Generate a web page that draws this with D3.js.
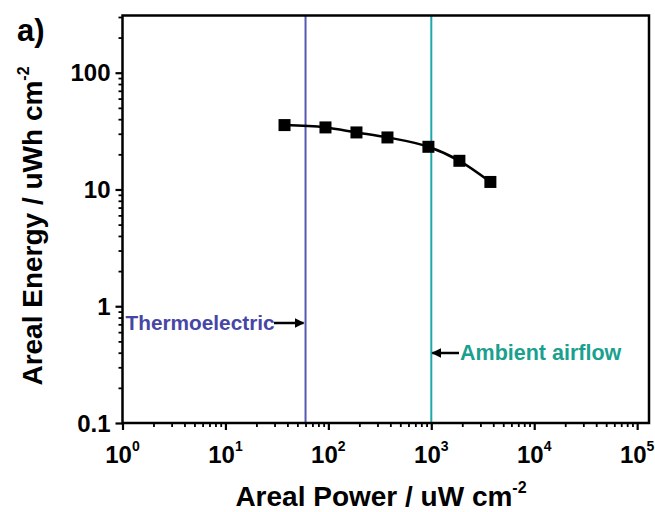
<!DOCTYPE html>
<html>
<head>
<meta charset="utf-8">
<script src="https://cdn.jsdelivr.net/npm/d3@7"></script>
<style>
  body { margin: 0; background: #fff; }
  text { font-family: "Liberation Sans", Arial, sans-serif; font-weight: bold; }
</style>
</head>
<body>
<div id="chart"></div>
<script>

// data
const power = [37.5, 93.75, 187.5, 375, 937.5, 1875, 3750];
const energy = [35.6, 34.0, 30.8, 27.9, 23.2, 17.6, 11.6];

const xMajor = [1, 10, 100, 1000, 10000, 100000];
const yMajor = [0.1, 1, 10, 100];
const yLabels = ["0.1", "1", "10", "100"];

const thermoX = 60;
const airflowX = 1000;

/*
SVG + SIZE
*/
const width = 655;
const height = 512;
const margin = {top: 15.5, left: 122.5, right: 6, bottom: 89};

const svg = d3.select("#chart")
    .append("svg")
    .attr("width", width)
    .attr("height", height);

/*
SCALES
*/
const xScale = d3.scaleLog()
    .domain([1, Math.pow(10, 5.115)])
    .range([margin.left, width - margin.right]);

const yScale = d3.scaleLog()
    .domain([0.1, Math.pow(10, 2.49)])
    .range([height - margin.bottom, margin.top]);

// minor ticks 2..9 of every decade
function minorTicks(lo, hi) {
    let out = [];
    for (let e = lo; e < hi; e++) {
        for (let k = 2; k <= 9; k++) out.push(k * Math.pow(10, e));
    }
    return out;
}

/*
AXES
*/
const bottom = height - margin.bottom;

svg.append("g")
    .attr("transform", `translate(0,${bottom})`)
    .call(d3.axisBottom(xScale).tickValues(xMajor).tickFormat("").tickSize(7).tickSizeOuter(0))
    .call(g => g.select(".domain").remove())
    .selectAll("line").attr("stroke-width", 2.2);

svg.append("g")
    .attr("transform", `translate(0,${bottom})`)
    .call(d3.axisBottom(xScale).tickValues(minorTicks(0, 5)).tickFormat("").tickSize(4).tickSizeOuter(0))
    .call(g => g.select(".domain").remove())
    .selectAll("line").attr("stroke-width", 1.8);

svg.append("g")
    .attr("transform", `translate(${margin.left},0)`)
    .call(d3.axisLeft(yScale).tickValues(yMajor).tickFormat("").tickSize(7).tickSizeOuter(0))
    .call(g => g.select(".domain").remove())
    .selectAll("line").attr("stroke-width", 2.2);

svg.append("g")
    .attr("transform", `translate(${margin.left},0)`)
    .call(d3.axisLeft(yScale).tickValues(minorTicks(-1, 2).concat([200, 300].filter(v => v < yScale.domain()[1]))).tickFormat("").tickSize(4).tickSizeOuter(0))
    .call(g => g.select(".domain").remove())
    .selectAll("line").attr("stroke-width", 1.8);

// tick labels
yMajor.forEach(function(v, i) {
    svg.append("text")
        .attr("x", margin.left - 12)
        .attr("y", yScale(v) + 8.5)
        .attr("text-anchor", "end")
        .attr("font-size", 24)
        .text(yLabels[i]);
});

xMajor.forEach(function(v, i) {
    const t = svg.append("text")
        .attr("x", xScale(v))
        .attr("y", bottom + 40)
        .attr("text-anchor", "middle")
        .attr("font-size", 24);
    t.append("tspan").text("10");
    t.append("tspan").attr("dy", -12).attr("font-size", 14).text(i);
});

/*
REFERENCE LINES
*/
svg.append("line")
    .attr("x1", xScale(thermoX)).attr("x2", xScale(thermoX))
    .attr("y1", margin.top).attr("y2", bottom)
    .attr("stroke", "#5858b4")
    .attr("stroke-width", 2);

svg.append("line")
    .attr("x1", xScale(airflowX)).attr("x2", xScale(airflowX))
    .attr("y1", margin.top).attr("y2", bottom)
    .attr("stroke", "#1fa8a8")
    .attr("stroke-width", 2);

// arrow head
svg.append("defs").append("marker")
    .attr("id", "arrow")
    .attr("viewBox", "0 0 10 10")
    .attr("refX", 9).attr("refY", 5)
    .attr("markerWidth", 4).attr("markerHeight", 4)
    .attr("orient", "auto")
    .append("path")
    .attr("d", "M0,0 L10,5 L0,10 Z")
    .attr("fill", "#000");

svg.append("text")
    .attr("x", margin.left + 3)
    .attr("y", 330)
    .attr("font-size", 20.8)
    .attr("fill", "#4646a6")
    .text("Thermoelectric");

svg.append("line")
    .attr("x1", 274).attr("x2", xScale(thermoX) - 2)
    .attr("y1", 323).attr("y2", 323)
    .attr("stroke", "#000")
    .attr("stroke-width", 2.5)
    .attr("marker-end", "url(#arrow)");

svg.append("text")
    .attr("x", 460)
    .attr("y", 360)
    .attr("font-size", 21.5)
    .attr("fill", "#1aa08e")
    .text("Ambient airflow");

svg.append("line")
    .attr("x1", 459).attr("x2", xScale(airflowX) + 1)
    .attr("y1", 353).attr("y2", 353)
    .attr("stroke", "#000")
    .attr("stroke-width", 2.5)
    .attr("marker-end", "url(#arrow)");

/*
DATA LINE + POINTS
*/
const pts = power.map((p, i) => [p, energy[i]]);

svg.append("path")
    .datum(pts)
    .attr("d", d3.line()
        .x(d => xScale(d[0]))
        .y(d => yScale(d[1]))
        .curve(d3.curveMonotoneX))
    .attr("fill", "none")
    .attr("stroke", "#000")
    .attr("stroke-width", 2.5);

svg.selectAll("rect.pt")
    .data(pts)
    .enter()
    .append("rect")
    .attr("class", "pt")
    .attr("x", d => xScale(d[0]) - 6)
    .attr("y", d => yScale(d[1]) - 6)
    .attr("width", 12)
    .attr("height", 12)
    .attr("fill", "#000");

/*
FRAME
*/
svg.append("rect")
    .attr("x", margin.left)
    .attr("y", margin.top)
    .attr("width", width - margin.right - margin.left)
    .attr("height", bottom - margin.top)
    .attr("fill", "none")
    .attr("stroke", "#000")
    .attr("stroke-width", 2.5);

/*
AXIS TITLES
*/
const xt = svg.append("text")
    .attr("x", 381)
    .attr("y", 506)
    .attr("text-anchor", "middle")
    .attr("font-size", 28);
xt.append("tspan").text("Areal Power / uW cm");
xt.append("tspan").attr("dy", -13).attr("font-size", 16).text("-2");

const yt = svg.append("text")
    .attr("transform", "translate(42,226) rotate(-90)")
    .attr("text-anchor", "middle")
    .attr("font-size", 28);
yt.append("tspan").text("Areal Energy / uWh cm");
yt.append("tspan").attr("dy", -13).attr("font-size", 16).text("-2");

svg.append("text")
    .attr("x", 17)
    .attr("y", 41)
    .attr("font-size", 31)
    .text("a)");

</script>
</body>
</html>
